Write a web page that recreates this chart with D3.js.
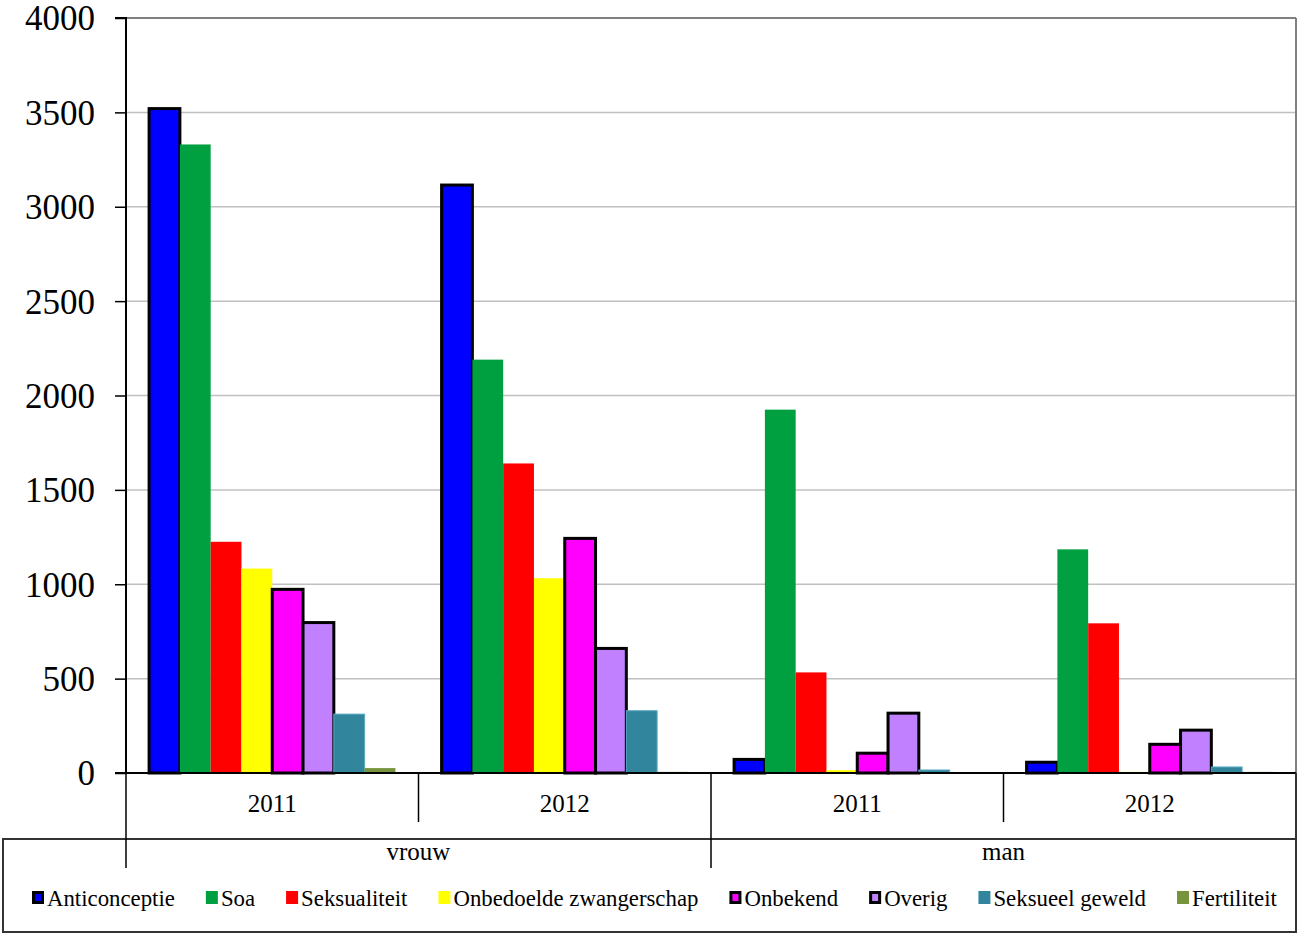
<!DOCTYPE html>
<html>
<head>
<meta charset="utf-8">
<script src="https://cdn.jsdelivr.net/npm/d3@7"></script>
<style>
  html, body { margin: 0; padding: 0; background: #fff; }
  svg { display: block; }
  text { font-family: "Liberation Serif", "Times New Roman", serif; fill: #000; }
</style>
</head>
<body>
<svg id="chart" width="1299" height="935"></svg>
<script>
// ---- data ----
const genders = ["vrouw", "man"];
const years = ["2011", "2012"];
const series = ["Anticonceptie", "Soa", "Seksualiteit", "Onbedoelde zwangerschap", "Onbekend", "Overig", "Seksueel geweld", "Fertiliteit"];
const colors = ["#0000FF", "#00A040", "#FF0000", "#FFFF00", "#FF00FF", "#C080FF", "#31859C", "#77933C"];
const outlined = ["Anticonceptie", "Onbekend", "Overig"];
// values per series, order: vrouw 2011, vrouw 2012, man 2011, man 2012
const anticonceptie = [3520, 3115, 72, 57];
const soa = [3330, 2190, 1925, 1185];
const seksualiteit = [1225, 1640, 533, 793];
const onbedoelde = [1083, 1032, 15, 6];
const onbekend = [973, 1243, 105, 152];
const overig = [797, 660, 317, 227];
const seksueelGeweld = [312, 330, 16, 32];
const fertiliteit = [26, 6, 5, 6];
const yTicks = [0, 500, 1000, 1500, 2000, 2500, 3000, 3500, 4000];

const valuesBySeries = [anticonceptie, soa, seksualiteit, onbedoelde, onbekend, overig, seksueelGeweld, fertiliteit];
const groups = [];
genders.forEach(g => years.forEach(yr => groups.push({ key: g + "-" + yr, gender: g, year: yr })));

// ---- layout ----
const svg = d3.select("#chart");
const mLeft = 126, mRight = 1296, mTop = 18, mBottom = 773;
const serif = "'Liberation Serif', 'Times New Roman', serif";

const y = d3.scaleLinear().domain([0, 4000]).range([mBottom, mTop]);
const x0 = d3.scaleBand().domain(groups.map(d => d.key)).range([mLeft, mRight]).padding(0);
const x1 = d3.scaleBand().domain(series).range([0, x0.bandwidth()]).paddingInner(0).paddingOuter(0.75);
const xg = d3.scaleBand().domain(genders).range([mLeft, mRight]).padding(0);

// gridlines
svg.append("g").selectAll("line").data(yTicks.filter(t => t > 0 && t < 4000)).join("line")
  .attr("x1", mLeft).attr("x2", mRight)
  .attr("y1", d => y(d)).attr("y2", d => y(d))
  .attr("stroke", "#c0c0c0").attr("stroke-width", 1.5);

// plot border top/right
svg.append("line").attr("x1", mLeft).attr("x2", mRight).attr("y1", y(4000)).attr("y2", y(4000))
  .attr("stroke", "#808080").attr("stroke-width", 2);
svg.append("line").attr("x1", mRight).attr("x2", mRight).attr("y1", y(4000)).attr("y2", mBottom)
  .attr("stroke", "#808080").attr("stroke-width", 2);

// y axis
const yAxis = d3.axisLeft(y).tickValues(yTicks).tickSize(11).tickPadding(20).tickFormat(d3.format("d"));
const yg = svg.append("g").attr("transform", `translate(${mLeft},0)`).call(yAxis);
yg.attr("font-family", serif);
yg.select(".domain").attr("stroke", "#000").attr("stroke-width", 2).attr("d", `M-11,${mTop}H0V${mBottom}H-11`);
yg.selectAll(".tick line").attr("stroke", "#000").attr("stroke-width", 1.5);
yg.selectAll(".tick text").style("font-family", serif).style("font-size", "35px").attr("dy", "0.34em");

// legend box
svg.append("rect").attr("x", 3).attr("y", 839).attr("width", mRight - 3).attr("height", 93)
  .attr("fill", "#fff").attr("stroke", "#333").attr("stroke-width", 2);

// bars
const gGroups = svg.append("g").selectAll("g").data(groups).join("g")
  .attr("transform", d => `translate(${x0(d.key)},0)`);
gGroups.selectAll("rect").data((d, gi) => series.map((s, si) => ({ s, si, v: valuesBySeries[si][gi] }))).join("rect")
  .attr("x", d => x1(d.s))
  .attr("width", x1.bandwidth())
  .attr("y", d => y(d.v))
  .attr("height", d => mBottom - y(d.v))
  .attr("fill", d => colors[d.si])
  .attr("stroke", d => outlined.includes(d.s) ? "#000" : (d.s === "Seksueel geweld" ? "#5aaac0" : "none"))
  .attr("stroke-width", d => outlined.includes(d.s) ? 3 : 1);

// x axis baseline
svg.append("line").attr("x1", mLeft - 11).attr("x2", mRight).attr("y1", mBottom).attr("y2", mBottom)
  .attr("stroke", "#000").attr("stroke-width", 2);

// category separators
svg.append("g").selectAll("line").data(groups.slice(1)).join("line")
  .attr("x1", d => x0(d.key)).attr("x2", d => x0(d.key))
  .attr("y1", mBottom)
  .attr("y2", d => d.year === years[0] ? 868 : 822)
  .attr("stroke", "#000").attr("stroke-width", 1.5);
svg.append("line").attr("x1", mLeft).attr("x2", mLeft).attr("y1", mBottom).attr("y2", 868)
  .attr("stroke", "#000").attr("stroke-width", 1.5);
svg.append("line").attr("x1", mRight).attr("x2", mRight).attr("y1", mBottom).attr("y2", 839)
  .attr("stroke", "#333").attr("stroke-width", 2);

// year labels
svg.append("g").selectAll("text").data(groups).join("text")
  .attr("x", d => x0(d.key) + x0.bandwidth() / 2)
  .attr("y", 812)
  .attr("text-anchor", "middle")
  .style("font-size", "25px")
  .text(d => d.year);

// gender labels
svg.append("g").selectAll("text").data(genders).join("text")
  .attr("x", d => xg(d) + xg.bandwidth() / 2)
  .attr("y", 860)
  .attr("text-anchor", "middle")
  .style("font-size", "25px")
  .text(d => d);

// legend
const legend = svg.append("g").attr("transform", "translate(32,899)");
let lx = 0;
series.forEach((s, i) => {
  const item = legend.append("g").attr("transform", `translate(${lx},0)`);
  const ol = outlined.includes(s);
  item.append("rect").attr("x", ol ? 1.5 : 0).attr("y", ol ? -6.5 : -8).attr("width", ol ? 9 : 12).attr("height", ol ? 10 : 13)
    .attr("fill", colors[i]).attr("stroke", ol ? "#000" : "none").attr("stroke-width", 3);
  const t = item.append("text").attr("x", 15).attr("y", 7).style("font-size", "22.8px").text(s);
  const w = t.node().getComputedTextLength();
  lx += 15 + w + 31;
});
</script>
</body>
</html>
